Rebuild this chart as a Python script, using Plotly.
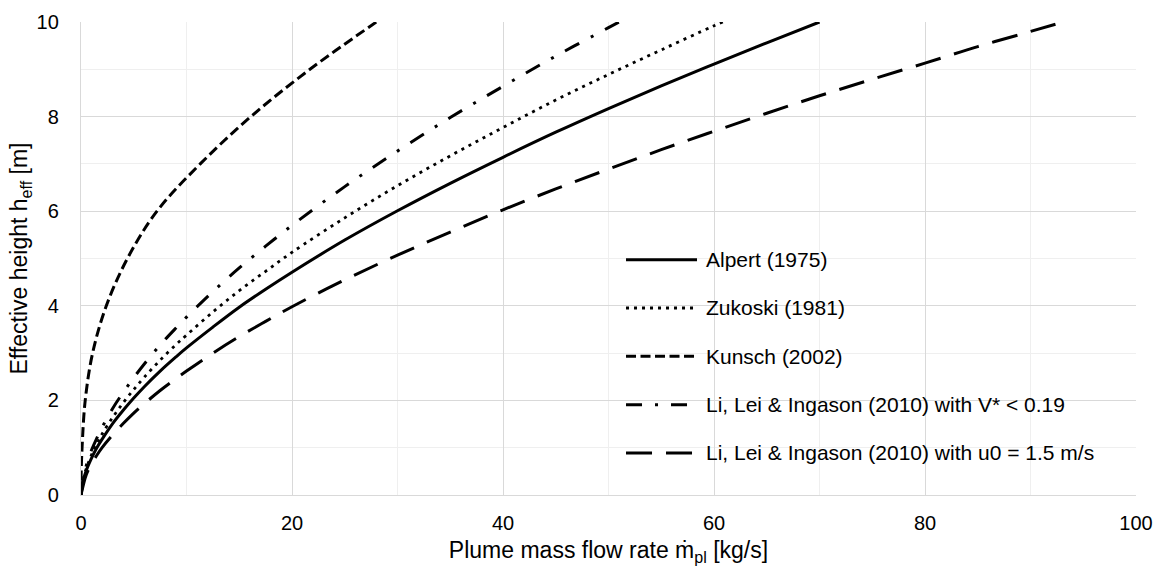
import plotly.graph_objects as go

# ---- data ----
alpert_x = [0, 0.25, 0.5, 1, 1.5, 2, 3, 4, 5, 6, 7.5, 9, 10, 12.5, 15, 17.5, 20, 25, 30, 35, 40, 45, 50, 55, 60, 65, 70]
alpert_y = [0, 0.34, 0.52, 0.78, 1.00, 1.18, 1.51, 1.79, 2.05, 2.29, 2.62, 2.92, 3.11, 3.55, 3.97, 4.35, 4.71,
            5.39, 6.01, 6.59, 7.14, 7.67, 8.17, 8.65, 9.11, 9.56, 10.0]

zukoski_x = [0, 0.25, 0.5, 1, 1.5, 2, 3, 4, 5, 6, 7.5, 9, 10, 12.5, 15, 17.5, 20, 25, 30, 35, 40, 45, 50, 55, 60, 62]
zukoski_y = [0, 0.37, 0.56, 0.85, 1.08, 1.29, 1.64, 1.95, 2.23, 2.49, 2.85, 3.18, 3.38, 3.87, 4.32, 4.73, 5.13,
             5.86, 6.54, 7.17, 7.77, 8.35, 8.89, 9.41, 9.92, 10.11]

kunsch_x = [0, 0.02, 0.1, 0.4, 1.1, 2.4, 4.4, 7.2, 11.3, 16.1, 21.7, 28.0, 29.0]
kunsch_y = [0, 0.5, 1.0, 2.0, 3.0, 4.0, 5.0, 6.0, 7.0, 8.0, 9.0, 10.0, 10.15]

li_v_x = [0, 0.25, 0.5, 1, 1.5, 2, 3, 4, 5, 6, 7.5, 9, 10, 12.5, 15, 17.5, 20, 25, 30, 35, 40, 45, 50, 52]
li_v_y = [0, 0.41, 0.62, 0.95, 1.20, 1.43, 1.83, 2.17, 2.48, 2.77, 3.17, 3.53, 3.76, 4.30, 4.80, 5.26, 5.70,
          6.52, 7.27, 7.98, 8.64, 9.28, 9.88, 10.12]

li_u_x = [0, 0.5, 1, 1.5, 2, 3, 4, 5, 6, 7.5, 9, 10, 12.5, 15, 17.5, 20, 25, 30, 35, 40, 45, 50, 55, 60, 65,
          70, 75, 80, 85, 90, 94]
li_u_y = [0, 0.43, 0.66, 0.84, 1.00, 1.27, 1.51, 1.73, 1.93, 2.21, 2.46, 2.62, 3.00, 3.35, 3.67, 3.98, 4.55,
          5.07, 5.56, 6.03, 6.47, 6.89, 7.30, 7.69, 8.07, 8.44, 8.79, 9.13, 9.48, 9.80, 10.06]

names = [
    "Alpert (1975)",
    "Zukoski (1981)",
    "Kunsch (2002)",
    "Li, Lei & Ingason (2010) with V* < 0.19",
    "Li, Lei & Ingason (2010) with u0 = 1.5 m/s",
]
xs = [alpert_x, zukoski_x, kunsch_x, li_v_x, li_u_x]
ys = [alpert_y, zukoski_y, kunsch_y, li_v_y, li_u_y]

# styles
dashes = ["solid", "3px,5px", "10px,4.5px", "16px,13px,3px,13px", "26px,14px"]
widths = [3, 2.8, 3, 3, 3]

x_ticks = [0, 20, 40, 60, 80, 100]
y_ticks = [0, 2, 4, 6, 8, 10]

FONT = "Liberation Sans, Arial, sans-serif"
FS = 21
TFS = 23

fig = go.Figure()
for i in range(5):
    fig.add_trace(go.Scatter(
        x=xs[i], y=ys[i], mode="lines", name=names[i], showlegend=False,
        line=dict(color="black", width=widths[i], dash=dashes[i], shape="spline", smoothing=1.0),
    ))

# legend box (white, hides gridlines) with long key samples as in the reference
fig.add_shape(type="rect", xref="paper", yref="paper", x0=0.4986, x1=0.9867, y0=0.038, y1=0.5505,
              fillcolor="white", line=dict(width=0), layer="below")
leg_top = 0.4976
leg_step = 0.1022
for i in range(5):
    yy = leg_top - i * leg_step
    fig.add_shape(type="line", xref="paper", yref="paper", x0=0.5166, x1=0.5839, y0=yy, y1=yy,
                  line=dict(color="black", width=widths[i], dash=dashes[i]))
    fig.add_annotation(xref="paper", yref="paper", x=0.5905, y=yy, xanchor="left", yanchor="middle",
                       text=names[i], showarrow=False, font=dict(size=FS, color="#000", family=FONT))

fig.update_layout(
    width=1160, height=566,
    margin=dict(l=81, r=24, t=22, b=71, autoexpand=False),
    paper_bgcolor="white", plot_bgcolor="white",
    font=dict(family=FONT, size=FS, color="#000"),
    showlegend=False,
    xaxis=dict(range=[0, 100], tickvals=x_ticks, showgrid=True, gridcolor="#d9d9d9", gridwidth=1.3,
               minor=dict(dtick=10, showgrid=True, gridcolor="#efefef", gridwidth=1.3),
               showline=True, linecolor="#d9d9d9", linewidth=1.3, zeroline=False, ticks="",
               tickfont=dict(size=20, color="#000"), ticklabelstandoff=10, automargin=False,
               title=dict(text="Plume mass flow rate ṁ<sub>pl</sub> [kg/s]", font=dict(size=TFS, color="#000"), standoff=10)),
    yaxis=dict(range=[0, 10], tickvals=y_ticks, showgrid=True, gridcolor="#d9d9d9", gridwidth=1.3,
               minor=dict(dtick=1, showgrid=True, gridcolor="#efefef", gridwidth=1.3),
               showline=True, linecolor="#d9d9d9", linewidth=1.3, zeroline=False, ticks="",
               tickfont=dict(size=20, color="#000"), ticklabelstandoff=17, automargin=False,
               title=dict(text="Effective height h<sub>eff</sub> [m]", font=dict(size=TFS, color="#000"), standoff=2)),
)

fig.write_html("out.html")
